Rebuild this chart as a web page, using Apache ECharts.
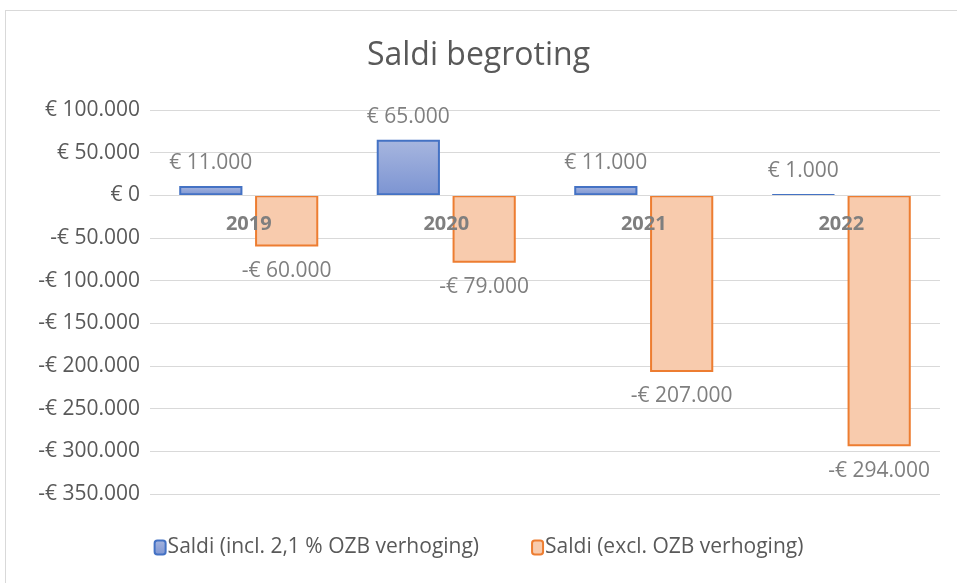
<!DOCTYPE html>
<html><head><meta charset="utf-8">
<script src="https://cdn.jsdelivr.net/npm/echarts@6/dist/echarts.min.js"></script>
<style>
html,body{margin:0;padding:0;background:#fff;overflow:hidden}
#frame{position:absolute;left:5px;top:10px;width:970px;height:600px;border:1px solid #d9d9d9;box-sizing:border-box}
#c{position:absolute;left:0;top:0;width:957px;height:583px}
</style></head>
<body>
<div id="frame"></div>
<div id="c"></div>
<script>
const categories = ['2019','2020','2021','2022'];
const seriesNames = ['Saldi (incl. 2,1 % OZB verhoging)','Saldi (excl. OZB verhoging)'];
const inclValues = [11000, 65000, 11000, 1000];
const exclValues = [-60000, -79000, -207000, -294000];
const yMin = -350000, yMax = 100000, yStep = 50000;

function fmt(v){
  const s = String(Math.abs(v)).replace(/\B(?=(\d{3})+(?!\d))/g,'.');
  return (v < 0 ? '-€ ' : '€ ') + s;
}
const font = 'Open Sans';
const chart = echarts.init(document.getElementById('c'), null, {renderer:'canvas'});
chart.setOption({
  animation:false,
  textStyle:{fontFamily:font},
  title:{text:'Saldi begroting', left:'center', top:35,
    textStyle:{fontFamily:font, fontSize:32, fontWeight:'normal', color:'#595959'}},
  grid:{left:150, right:17, top:110, bottom:89, containLabel:false},
  legend:{bottom:20, left:'center', itemWidth:11, itemHeight:14, itemGap:52,
    textStyle:{fontFamily:font, fontSize:21, color:'#595959', padding:[0,0,0,-3]}},
  xAxis:{type:'category', data:categories, offset:-299, z:10,
    axisLine:{show:true, onZero:false, lineStyle:{color:'#d9d9d9', width:1}},
    axisTick:{show:false},
    axisLabel:{margin:19, fontFamily:font, fontSize:20, fontWeight:'bold', color:'#7f7f7f'}},
  yAxis:{type:'value', min:yMin, max:yMax, interval:yStep,
    axisLine:{show:false}, axisTick:{show:false},
    splitLine:{lineStyle:{color:'#d9d9d9', width:1}},
    axisLabel:{margin:10, fontFamily:font, fontSize:21, color:'#595959',
      formatter:v => v === 0 ? '€ 0' : fmt(v)}},
  series:[
    {name:seriesNames[0], type:'bar', data:inclValues, barWidth:'32%', barGap:'20%',
      itemStyle:{color:{type:'linear',x:0,y:0,x2:0,y2:1,colorStops:[{offset:0,color:'#a7b6df'},{offset:1,color:'#7c94d2'}]},
        borderColor:'#4472c4', borderWidth:2},
      label:{show:true, position:'top', distance:12, fontFamily:font, fontSize:21, color:'#7f7f7f',
        formatter:p => fmt(p.value)}},
    {name:seriesNames[1], type:'bar', data:exclValues, barWidth:'32%',
      itemStyle:{color:'#f8cbad', borderColor:'#ed7d31', borderWidth:2},
      label:{show:true, position:'bottom', distance:14, fontFamily:font, fontSize:21, color:'#7f7f7f',
        formatter:p => fmt(p.value)}}
  ]
});
</script>
</body></html>
